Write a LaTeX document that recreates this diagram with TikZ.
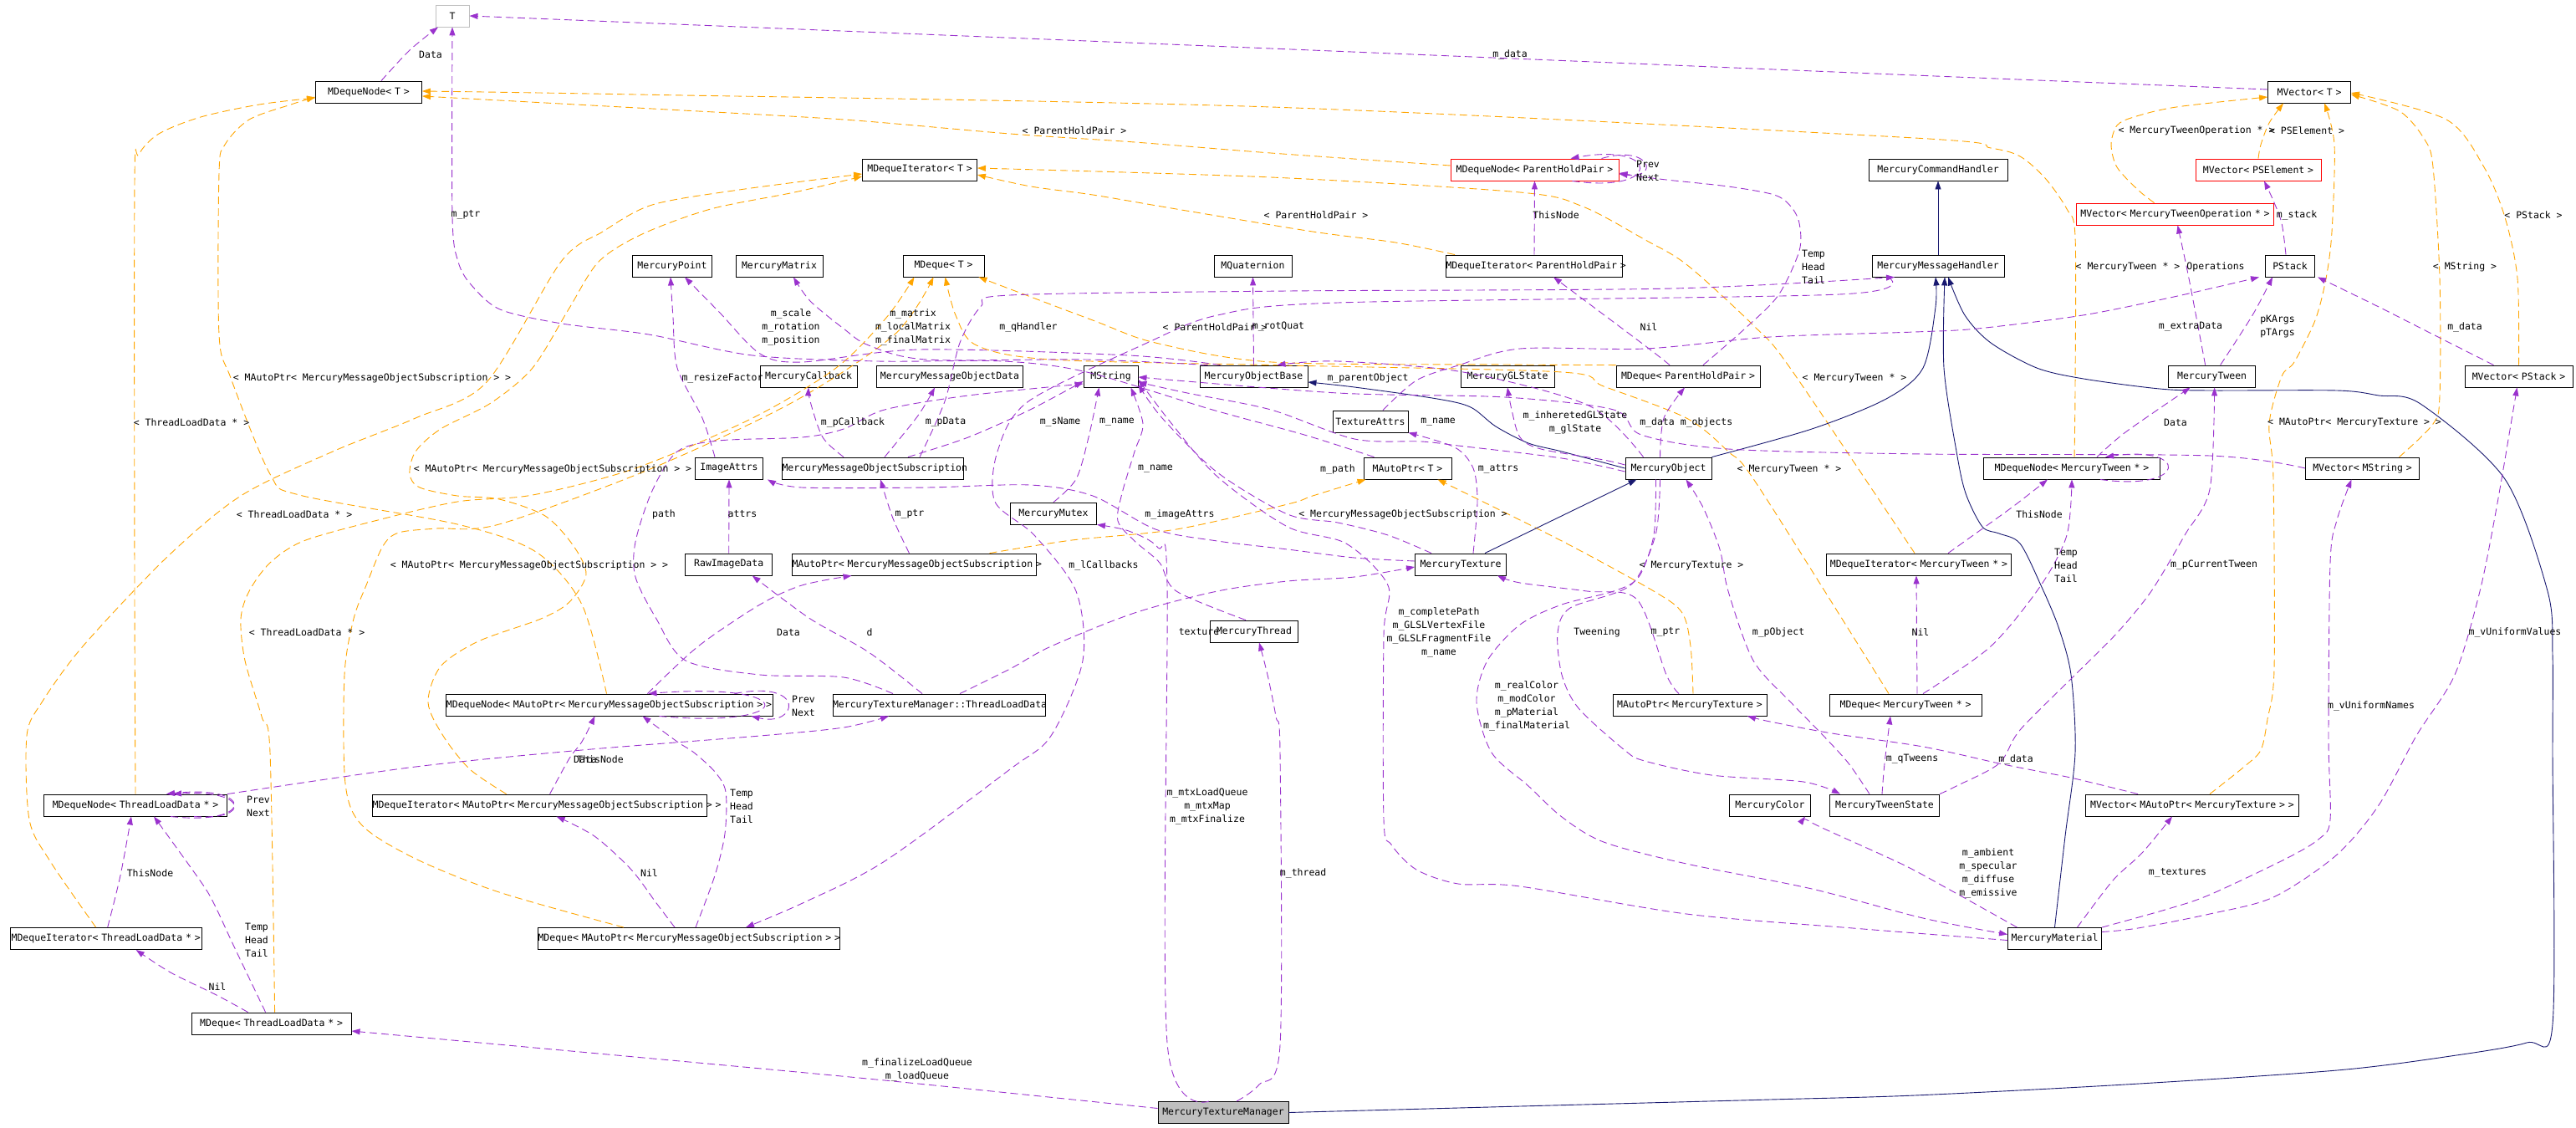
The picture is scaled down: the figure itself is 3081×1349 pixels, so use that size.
\documentclass[tikz,border=0pt]{standalone}
\usepackage{fontspec}
\usepackage{tikz}
\usetikzlibrary{arrows.meta}
\newfontfamily\dxmono{DejaVu Sans Mono}
\newcommand{\dxfont}{\dxmono\fontsize{11.5}{16}\selectfont}
\definecolor{useclr}{HTML}{9A32CD}
\definecolor{tplclr}{HTML}{FFA500}
\definecolor{inhclr}{HTML}{191970}
\definecolor{grayline}{HTML}{BFBFBF}
\tikzset{
  clsbox/.style={draw=black, line width=0.9pt, minimum height=26pt,
    inner sep=0pt, font=\dxfont, align=center, text width=#1,
    execute at begin node={\leavevmode\hbox\bgroup},
    execute at end node={\egroup}},
  redbox/.style={clsbox=#1, draw=red},
  lbl/.style={font=\dxfont, inner sep=0pt, align=center},
  usage/.style={draw=useclr, line width=0.9pt, dash pattern=on 9pt off 5pt,
    -{Triangle[length=10pt,width=7pt]}},
  tmpl/.style={draw=tplclr, line width=0.9pt, dash pattern=on 9pt off 5pt,
    -{Triangle[length=10pt,width=7pt]}},
  inherit/.style={draw=inhclr, line width=0.9pt,
    -{Triangle[length=10pt,width=7pt]}},
}

\begin{document}
\begin{tikzpicture}[x=1pt, y=-1pt]
  \useasboundingbox (0,0) rectangle (3081,1349);

  % classes
  \node[clsbox=40pt, draw=grayline] (tT) at (541,19) {T};
  \node[clsbox=127pt] (mdnT) at (441,110) {MDequeNode< T >};
  \node[clsbox=99pt] (mvT) at (2762,110) {MVector< T >};
  \node[clsbox=137pt] (mdiT) at (1100,203) {MDequeIterator< T >};
  \node[redbox=201pt] (mdnPHP) at (1835.5,203) {MDequeNode< ParentHoldPair >};
  \node[clsbox=166pt] (mch) at (2318,203) {MercuryCommandHandler};
  \node[redbox=150pt] (mvPSE) at (2701,203) {MVector< PSElement >};
  \node[redbox=236pt] (mvMTO) at (2601.5,256) {MVector< MercuryTweenOperation * >};
  \node[clsbox=95pt] (mpoint) at (804,318) {MercuryPoint};
  \node[clsbox=104pt] (mmatrix) at (932,318) {MercuryMatrix};
  \node[clsbox=97pt] (mdqT) at (1128.5,318) {MDeque< T >};
  \node[clsbox=93pt] (mquat) at (1498.5,318) {MQuaternion};
  \node[clsbox=211pt] (mdiPHP) at (1835,318) {MDequeIterator< ParentHoldPair >};
  \node[clsbox=158pt] (mmh) at (2318,318) {MercuryMessageHandler};
  \node[clsbox=59pt] (pstack) at (2739,318) {PStack};
  \node[clsbox=116pt] (mcallback) at (967,450) {MercuryCallback};
  \node[clsbox=175pt] (mmodata) at (1136,450) {MercuryMessageObjectData};
  \node[clsbox=65pt] (mstring) at (1328.5,450) {MString};
  \node[clsbox=129pt] (mobase) at (1499.5,450) {MercuryObjectBase};
  \node[clsbox=112pt] (mglstate) at (1803,450) {MercuryGLState};
  \node[clsbox=172pt] (mdqPHP) at (2019,450) {MDeque< ParentHoldPair >};
  \node[clsbox=104pt] (mtween) at (2645.6,450) {MercuryTween};
  \node[clsbox=129pt] (mvPStack) at (3012.5,450) {MVector< PStack >};
  \node[clsbox=90pt] (texattrs) at (1639,504) {TextureAttrs};
  \node[clsbox=81pt] (imgattrs) at (872,560) {ImageAttrs};
  \node[clsbox=217pt] (mmos) at (1044,560) {MercuryMessageObjectSubscription};
  \node[clsbox=105pt] (maptrT) at (1683.5,560) {MAutoPtr< T >};
  \node[clsbox=103pt] (mobject) at (1995.5,560) {MercuryObject};
  \node[clsbox=211pt] (mdnMT) at (2478,560) {MDequeNode< MercuryTween * >};
  \node[clsbox=136pt] (mvMString) at (2825.5,560) {MVector< MString >};
  \node[clsbox=103pt] (mmutex) at (1260,614) {MercuryMutex};
  \node[clsbox=104pt] (rawimg) at (871.7,675) {RawImageData};
  \node[clsbox=292pt] (maptrMMOS) at (1093.5,675) {MAutoPtr< MercuryMessageObjectSubscription >};
  \node[clsbox=109pt] (mtexture) at (1747,675) {MercuryTexture};
  \node[clsbox=221pt] (mdiMT) at (2295,675) {MDequeIterator< MercuryTween * >};
  \node[clsbox=105pt] (mthread) at (1500,755) {MercuryThread};
  \node[clsbox=391pt] (mdnMMOS) at (728.5,843) {MDequeNode< MAutoPtr< MercuryMessageObjectSubscription > >};
  \node[clsbox=254pt] (tld) at (1123,843) {MercuryTextureManager::ThreadLoadData};
  \node[clsbox=184pt] (maptrMT) at (2021,843) {MAutoPtr< MercuryTexture >};
  \node[clsbox=182pt] (mdqMT) at (2279,843) {MDeque< MercuryTween * >};
  \node[clsbox=219pt] (mdnTLD) at (162,963) {MDequeNode< ThreadLoadData * >};
  \node[clsbox=400pt] (mdiMMOS) at (645.6,963) {MDequeIterator< MAutoPtr< MercuryMessageObjectSubscription > >};
  \node[clsbox=97pt] (mcolor) at (2117,963) {MercuryColor};
  \node[clsbox=131pt] (mtstate) at (2254,963) {MercuryTweenState};
  \node[clsbox=255pt] (mvMAT) at (2622,963) {MVector< MAutoPtr< MercuryTexture > >};
  \node[clsbox=229pt] (mdiTLD) at (126.7,1122.5) {MDequeIterator< ThreadLoadData * >};
  \node[clsbox=112pt] (mmaterial) at (2457.5,1122.5) {MercuryMaterial};
  \node[clsbox=361pt] (mdqMMOS) at (824,1122.5) {MDeque< MAutoPtr< MercuryMessageObjectSubscription > >};
  \node[clsbox=191pt] (mdqTLD) at (324.6,1224) {MDeque< ThreadLoadData * >};
  \node[clsbox=156pt, fill=grayline] (mtm) at (1463,1330.5) {MercuryTextureManager};

  % template instances
  \draw[tmpl] plot[smooth] coordinates {([yshift=5pt]mdnPHP.west) (1520,183) (1357,170) (1208,160) (1009,143) (780,130) ([yshift=-5pt]mdnT.east)};
  \draw[tmpl] plot[smooth] coordinates {([xshift=3pt]mdnMT.north) (2482,460) (2482,283) (2472,250) (2446,213) (2416,187) (2381,177) (2290,165) (1520,128) (760,113) ([yshift=1pt]mdnT.east)};
  \draw[tmpl] plot[smooth] coordinates {(mdnTLD.north) (161,700) (161,220) (166,185) (190,160) (240,140) (310,125) ([yshift=-7pt]mdnT.west)};
  \draw[tmpl] plot[smooth] coordinates {([xshift=-3pt]mdnMMOS.north) (696,723) (641,660) (547,627) (358,592) (323,567) (276,452) (262,400) (262,207) (269,173) (298,143) (348,125) ([yshift=-6pt]mdnT.west)};
  \draw[tmpl] plot[smooth] coordinates {([xshift=-12pt]mdiTLD.north) (60,1030) (35,980) (32,880) (50,840) (99,773) (199,667) (288,593) (398,540) (497,500) (582,457) (671,313) (721,277) (780,245) (884,227) ([yshift=-5pt]mdiT.west)};
  \draw[tmpl] plot[smooth] coordinates {([xshift=-40pt]mdiMMOS.north) (562,920) (530,880) (512,840) (527,797) (572,767) (647,740) (681,720) (701,687) (686,653) (652,617) (597,597) (547,593) (502,583) (490,567) (497,540) (527,513) (587,482) (637,440) (680,370) (716,313) (768,280) (850,250) (950,230) ([yshift=-8pt]mdiT.west)};
  \draw[tmpl] plot[smooth] coordinates {([xshift=-95pt]mdiPHP.north) (1669,290) (1570,277) (1407,250) (1307,233) (1233,223) ([yshift=-6pt]mdiT.east)};
  \draw[tmpl] plot[smooth] coordinates {([xshift=-5pt]mdiMT.north) (2141,440) (2098,390) (2018,317) (1968,287) (1893,247) (1818,230) (1520,212) ([yshift=2pt]mdiT.east)};
  \draw[tmpl] plot[smooth] coordinates {(mdqPHP.north west) (1800,436) (1521,433) (1382,410) (1307,383) ([xshift=42pt]mdqT.south)};
  \draw[tmpl] plot[smooth] coordinates {([xshift=-20pt]mdqMT.north) (2102,580) (2067,540) (2017,500) (1918,462) (1868,445) (1540,437) (1257,430) (1168,413) (1143,377) ([xshift=2pt]mdqT.south)};
  \draw[tmpl] plot[smooth] coordinates {([xshift=4pt]mdqTLD.north) (323,900) (313,857) (293,790) (288,740) (298,707) (323,673) (363,647) (448,623) (547,600) (637,592) (760,560) (900,500) (1000,440) (1060,380) ([xshift=-35pt]mdqT.south)};
  \draw[tmpl] plot[smooth] coordinates {([xshift=-78pt]mdqMMOS.north) (597,1067) (497,1027) (433,987) (413,937) (412,807) (423,740) (438,700) (458,653) (477,637) (522,632) (597,627) (780,560) (950,480) (1070,400) ([xshift=-12pt]mdqT.south)};
  \draw[tmpl] plot[smooth] coordinates {([xshift=90pt]maptrMMOS.north) (1282,646) (1407,633) (1540,603) (1570,593) ([xshift=-50pt]maptrT.south)};
  \draw[tmpl] plot[smooth] coordinates {([xshift=4pt]maptrMT.north) (2022,773) (2012,733) (1978,707) (1868,647) ([xshift=36pt]maptrT.south)};
  \draw[tmpl] plot[smooth] coordinates {([xshift=-25pt]mvMTO.north) (2557,227) (2532,200) (2525,173) (2532,150) (2552,140) (2603,128) ([yshift=-6pt]mvT.west)};
  \draw[tmpl] plot[smooth] coordinates {(mvPSE.north) (2704,173) (2714,147) ([xshift=-31pt]mvT.south)};
  \draw[tmpl] plot[smooth] coordinates {([xshift=21pt]mvMAT.north) (2684,917) (2704,897) (2712,860) (2720,800) (2719,573) (2714,507) (2729,450) (2744,433) (2769,383) (2782,333) (2789,277) (2792,173) ([xshift=18pt]mvT.south)};
  \draw[tmpl] plot[smooth] coordinates {([xshift=44pt]mvMString.north) (2910,507) (2918,473) (2918,333) (2910,200) (2900,167) (2870,133) ([yshift=-3pt]mvT.east)};
  \draw[tmpl] plot[smooth] coordinates {(mvPStack.north) (3011,333) (2996,260) (2971,200) (2926,143) ([yshift=-1pt]mvT.east)};

  % inheritance
  \draw[inherit] (mmh) -- (mch);
  \draw[inherit] plot[smooth] coordinates {(mobject.north east) (2167,513) (2256,477) (2300,440) (2315,367) ([xshift=-3pt]mmh.south)};
  \draw[inherit] plot[smooth] coordinates {(mmaterial.north) (2470,1000) (2482,900) (2477,807) (2462,750) (2441,700) (2416,650) (2391,638) (2371,630) (2351,590) (2340,540) (2325,440) ([xshift=8pt]mmh.south)};
  \draw[inherit] plot[smooth] coordinates {(mtm.east) (1818,1323) (2117,1315) (2290,1310) (2542,1297) (2795,1280) (2931,1263) (3022,1247) (3053,1225) (3053,900) (3053,783) (3047,707) (2996,573) (2895,483) (2845,473) (2795,467) (2643,467) (2583,465) (2492,453) (2436,440) (2381,410) (2350,377) ([xshift=12pt]mmh.south)};
  \draw[inherit] plot[smooth] coordinates {(mobject.west) (1868,540) (1828,530) (1789,510) (1759,487) (1719,477) (1620,463) ([yshift=-7pt]mobase.east)};
  \draw[inherit] ([xshift=29pt]mtexture.north) -- ([xshift=-38pt]mobject.south);

  % usage
  \draw[usage] plot[smooth] coordinates {([yshift=3pt]mvT.west) (2290,90) (1520,58) (760,27) (tT.east)};
  \draw[usage] plot[smooth] coordinates {([xshift=15pt]mdnT.north) (490,60) ([xshift=-17pt]tT.south)};
  \draw[usage] plot[smooth] coordinates {([xshift=-40pt]maptrT.north) (1560,520) (1450,490) (1300,445) (1200,432) (1050,432) (900,425) (776,400) (672,387) (598,370) (563,340) (548,313) (541,260) (tT.south)};
  \draw[usage] (mdiPHP.north) -- (mdnPHP.south);
  \draw[usage] plot[smooth] coordinates {([xshift=18pt]mdqPHP.north) (2087,393) (2127,353) (2152,300) (2152,267) (2142,247) (2122,233) (2067,223) (1993,215) ([yshift=-5pt]mdnPHP.east)};
  \draw[usage] plot[smooth] coordinates {([xshift=-22pt]mdqPHP.north) (1967,413) ([xshift=23pt]mdiPHP.south)};
  \draw[usage] ([xshift=45pt]mdnPHP.south) .. controls (1990,232) and (1985,170) .. ([xshift=43pt]mdnPHP.north);
  \draw[usage] ([xshift=80pt]mdnPHP.north) .. controls (1975,172) and (1985,215) .. ([yshift=-4pt]mdnPHP.east);
  \draw[usage] plot[smooth] coordinates {([xshift=56pt]mmos.north) (1130,480) (1148,410) (1173,367) (1208,353) (1540,348) (2000,345) ([xshift=-52pt]mmh.south)};
  \draw[usage] (mobase.north) -- (mquat.south);
  \draw[usage] plot[smooth] coordinates {([xshift=-40pt]mobase.north) (1350,425) (1100,418) (959,433) (909,423) (860,373) ([xshift=15pt]mpoint.south)};
  \draw[usage] plot[smooth] coordinates {([xshift=-55pt]mobase.north) (1300,430) (1108,430) (1039,413) (1009,393) (969,360) ([xshift=17pt]mmatrix.south)};
  \draw[usage] plot[smooth] coordinates {([xshift=-17pt]imgattrs.north) (840,500) (810,440) (805,380) ([xshift=-2pt]mpoint.south)};
  \draw[usage] plot[smooth] coordinates {([xshift=-35pt]mmos.north) (984,523) (969,480) (mcallback.south)};
  \draw[usage] plot[smooth] coordinates {([xshift=14pt]mmos.north) (1098,497) ([xshift=-18pt]mmodata.south)};
  \draw[usage] plot[smooth] coordinates {([xshift=42pt]mmos.north) (1158,523) (1232,490) ([yshift=-6pt]mstring.west)};
  \draw[usage] plot[smooth] coordinates {(mmutex.north) (1287,573) (1302,523) ([xshift=-14pt]mstring.south)};
  \draw[usage] plot[smooth] coordinates {([xshift=-10pt]mthread.north) (1407,707) (1387,673) (1357,647) (1337,623) (1342,590) (1357,540) (1367,507) ([xshift=24pt]mstring.south)};
  \draw[usage] plot[smooth] coordinates {([xshift=-55pt]tld.north) (1009,810) (909,807) (820,790) (785,740) (760,690) (760,648) (780,587) (810,540) (859,527) (959,523) (1009,513) (1058,490) (1158,473) ([yshift=-9pt]mstring.west)};
  \draw[usage] (rawimg.north) -- (imgattrs.south);
  \draw[usage] plot[smooth] coordinates {([xshift=-20pt]tld.north) (1039,780) (969,740) ([xshift=28pt]rawimg.south)};
  \draw[usage] plot[smooth] coordinates {([yshift=4pt]mtexture.west) (1620,667) (1540,657) (1456,647) (1382,633) (1307,593) (1232,580) (1108,583) (959,583) ([xshift=5pt]imgattrs.south east)};
  \draw[usage] plot[smooth] coordinates {([xshift=25pt]tld.north) (1208,800) (1257,773) (1357,733) (1456,707) (1540,695) (1620,690) ([yshift=-3pt]mtexture.west)};
  \draw[usage] plot[smooth] coordinates {([xshift=-6pt]maptrMMOS.north) (1068,620) ([xshift=9pt]mmos.south)};
  \draw[usage] plot[smooth] coordinates {([xshift=46pt]mdnMMOS.north) (835,773) (909,723) (959,700) ([xshift=-75pt]maptrMMOS.south)};
  \draw[usage] ([xshift=60pt]mdnMMOS.south) .. controls (955,872) and (960,815) .. ([xshift=47pt]mdnMMOS.north);
  \draw[usage] ([xshift=150pt]mdnMMOS.north) .. controls (965,812) and (955,870) .. ([xshift=170pt]mdnMMOS.south);
  \draw[usage] plot[smooth] coordinates {([xshift=12pt]mdiMMOS.north) (681,907) (696,887) ([xshift=-17pt]mdnMMOS.south)};
  \draw[usage] plot[smooth] coordinates {([xshift=8pt]mdqMMOS.north) (855,1047) (867,997) (868,947) (855,923) (830,900) (810,887) ([xshift=40pt]mdnMMOS.south)};
  \draw[usage] plot[smooth] coordinates {([xshift=-17pt]mdqMMOS.north) (785,1080) (755,1040) (711,1000) ([xshift=20pt]mdiMMOS.south)};
  \draw[usage] plot[smooth] coordinates {([xshift=-60pt]mmh.south) (2200,352) (1600,362) (1456,377) (1372,410) (1230,480) (1193,540) (1190,600) (1237,640) (1287,707) (1295,790) (1257,880) (1208,920) (1058,1030) (960,1080) ([xshift=68pt]mdqMMOS.north)};
  \draw[usage] plot[smooth] coordinates {([yshift=4pt]mobject.west) (1918,550) (1843,537) (1818,523) (1808,490) (mglstate.south)};
  \draw[usage] plot[smooth] coordinates {([xshift=-10pt]mobject.north) (1990,500) ([xshift=-4pt]mdqPHP.south)};
  \draw[usage] plot[smooth] coordinates {([xshift=-30pt]mobject.north) (1900,485) (1750,445) (1600,432) ([xshift=28pt]mobase.north)};
  \draw[usage] plot[smooth] coordinates {([xshift=15pt]texattrs.north) (1694,455) (1744,437) (1818,417) (1968,417) (2117,403) (2290,397) (2365,393) (2491,377) (2600,355) ([xshift=-37pt]pstack.south)};
  \draw[usage] plot[smooth] coordinates {([xshift=-8pt]mtween.north) (2618,333) ([xshift=3pt]mvMTO.south)};
  \draw[usage] plot[smooth] coordinates {([xshift=10pt]mtween.north) (2694,377) ([xshift=-21pt]pstack.south)};
  \draw[usage] plot[smooth] coordinates {([xshift=-5pt]pstack.north) (2729,267) (2719,240) ([xshift=7pt]mvPSE.south)};
  \draw[usage] plot[smooth] coordinates {([xshift=-30pt]mvPStack.north) (2916,403) (2845,367) ([xshift=33pt]pstack.south)};
  \draw[usage] plot[smooth] coordinates {([xshift=30pt]mdnMT.north) (2542,517) ([xshift=-26pt]mtween.south)};
  \draw[usage] ([xshift=34pt]mdnMT.south) .. controls (2618,588) and (2618,532) .. ([xshift=40pt]mdnMT.north);
  \draw[usage] plot[smooth] coordinates {([xshift=35pt]mdiMT.north) (2406,607) ([xshift=-29pt]mdnMT.south)};
  \draw[usage] plot[smooth] coordinates {([xshift=21pt]mdqMT.north) (2381,773) (2441,700) (2472,640) (mdnMT.south)};
  \draw[usage] ([xshift=14pt]mdqMT.north) -- ([xshift=-3pt]mdiMT.south);
  \draw[usage] plot[smooth] coordinates {([xshift=66pt]mtstate.north) (2340,940) (2391,913) (2416,873) (2482,807) (2532,757) (2573,707) (2613,640) (2643,585) ([xshift=3pt]mtween.south)};
  \draw[usage] plot[smooth] coordinates {([xshift=-3pt]mtstate.north) (2254,913) ([xshift=-18pt]mdqMT.south)};
  \draw[usage] plot[smooth] coordinates {([xshift=-10pt]mobject.south) (1980,640) (1950,700) (1878,727) (1863,757) (1868,807) (1888,847) (1943,897) (1967,910) (2047,927) (2157,935) ([xshift=-53pt]mtstate.north)};
  \draw[usage] plot[smooth] coordinates {([xshift=-18pt]mtstate.north) (2211,913) (2181,880) (2142,840) (2097,790) (2067,707) (2057,657) (2037,607) ([xshift=21pt]mobject.south)};
  \draw[usage] plot[smooth] coordinates {([xshift=-13pt]maptrMT.north) (1993,807) (1958,717) (1898,707) (1818,697) ([xshift=44pt]mtexture.south)};
  \draw[usage] plot[smooth] coordinates {([xshift=-65pt]mvMAT.north) (2481,931) (2441,923) (2391,913) (2300,893) (2191,877) (2117,863) ([xshift=69pt]maptrMT.south)};
  \draw[usage] plot[smooth] coordinates {([xshift=27pt]mmaterial.north) (2527,1053) (2562,1020) ([xshift=-24pt]mvMAT.south)};
  \draw[usage] plot[smooth] coordinates {([xshift=-45pt]mmaterial.north) (2330,1063) (2274,1033) (2173,987) ([xshift=42pt]mcolor.south)};
  \draw[usage] plot[smooth] coordinates {([xshift=-15pt]mobject.south) (1978,640) (1960,690) (1930,707) (1868,723) (1818,747) (1779,790) (1766,840) (1784,900) (1828,940) (1868,977) (1918,1007) (2017,1033) (2167,1063) (2300,1098) ([yshift=5pt]mmaterial.west)};
  \draw[usage] plot[smooth] coordinates {([yshift=-2pt]mmaterial.west) (2216,1110) (2017,1093) (1818,1060) (1744,1057) (1694,1040) (1664,1010) (1655,980) (1655,760) (1660,700) (1610,650) (1540,630) (1456,570) (1400,505) ([yshift=-4pt]mstring.east)};
  \draw[usage] plot[smooth] coordinates {(mmaterial.north east) (2593,1087) (2643,1070) (2734,1027) (2774,1003) (2787,980) (2785,880) (2787,673) (2795,622) ([xshift=-13pt]mvMString.south)};
  \draw[usage] plot[smooth] coordinates {([yshift=8pt]mmaterial.east) (2557,1110) (2643,1093) (2719,1073) (2794,1023) (2845,963) (2890,880) (2936,807) (2966,707) (2986,607) (3006,490) ([xshift=-2pt]mvPStack.south)};
  \draw[usage] plot[smooth] coordinates {(mvMString.west) (2643,545) (2300,543) (2067,537) (1963,520) (1930,490) (1800,475) (1600,470) ([yshift=-1pt]mstring.east)};
  \draw[usage] plot[smooth] coordinates {([yshift=-4pt]mobject.west) (1868,548) (1744,533) (1700,528) (1620,525) (1520,490) (1420,470) ([yshift=-7pt]mstring.east)};
  \draw[usage] plot[smooth] coordinates {([xshift=15pt]mtexture.north) (1767,600) (1762,560) (1740,535) (texattrs.south east)};
  \draw[usage] plot[smooth] coordinates {([xshift=-35pt]mtexture.north) (1660,640) (1600,625) (1540,615) (1456,565) (1390,500) ([yshift=-10pt]mstring.east)};
  \draw[usage] plot[smooth] coordinates {([yshift=5pt]mtm.west) (1058,1292) (770,1265) ([yshift=-9pt]mdqTLD.east)};
  \draw[usage] plot[smooth] coordinates {([xshift=-17pt]mtm.north) (1396,1247) (1396,700) (1385,655) (1350,635) (mmutex.south east)};
  \draw[usage] plot[smooth] coordinates {([xshift=16pt]mtm.north) (1506,1297) (1531,1250) (1531,900) (1526,857) (1516,807) ([xshift=6pt]mthread.south)};
  \draw[usage] plot[smooth] coordinates {(mdnTLD.north east) (497,917) (696,897) (909,880) (1009,870) ([xshift=-60pt]tld.south)};
  \draw[usage] ([xshift=42pt]mdnTLD.south) .. controls (305,988) and (305,938) .. ([xshift=37pt]mdnTLD.north);
  \draw[usage] ([xshift=70pt]mdnTLD.south) .. controls (300,982) and (298,944) .. ([xshift=45pt]mdnTLD.north);
  \draw[usage] plot[smooth] coordinates {([xshift=2pt]mdiTLD.north) (144,1047) ([xshift=-5pt]mdnTLD.south)};
  \draw[usage] plot[smooth] coordinates {([xshift=-7pt]mdqTLD.north) (279,1130) (259,1087) (244,1060) (199,997) ([xshift=22pt]mdnTLD.south)};
  \draw[usage] plot[smooth] coordinates {([xshift=-28pt]mdqTLD.north) (259,1190) (204,1163) ([xshift=36pt]mdiTLD.south)};

  % edge labels
  \node[lbl] (l01) at (515,65) {Data};
  \node[lbl] (l02) at (1806,65) {m\_data};
  \node[lbl] (l03) at (1285,156) {< ParentHoldPair >};
  \node[lbl] (l04) at (2627,156) {< MercuryTweenOperation * >};
  \node[lbl] (l05) at (2759,156) {< PSElement >};
  \node[lbl] (l06) at (1971,204) {Prev\\Next};
  \node[lbl] (l07) at (557,257) {m\_ptr};
  \node[lbl] (l08) at (1574,257) {< ParentHoldPair >};
  \node[lbl] (l09) at (1861,257) {ThisNode};
  \node[lbl] (l10) at (2747,257) {m\_stack};
  \node[lbl] (l11) at (3030,257) {< PStack >};
  \node[lbl] (l12) at (2169,319) {Temp\\Head\\Tail};
  \node[lbl] (l13) at (2545,319) {< MercuryTween * >};
  \node[lbl] (l14) at (2650,319) {Operations};
  \node[lbl] (l15) at (2948,319) {< MString >};
  \node[lbl] (l16) at (946,391) {m\_scale\\m\_rotation\\m\_position};
  \node[lbl] (l17) at (1092,391) {m\_matrix\\m\_localMatrix\\m\_finalMatrix};
  \node[lbl] (l18) at (1230,391) {m\_qHandler};
  \node[lbl] (l19) at (1453,391) {< ParentHoldPair >};
  \node[lbl] (l20) at (1529,391) {m\_rotQuat};
  \node[lbl] (l21) at (1972,391) {Nil};
  \node[lbl] (l22) at (2620,391) {m\_extraData};
  \node[lbl] (l23) at (2724,391) {pKArgs\\pTArgs};
  \node[lbl] (l24) at (2948,391) {m\_data};
  \node[lbl] (l25) at (445,452) {< MAutoPtr< MercuryMessageObjectSubscription > >};
  \node[lbl] (l26) at (864,452) {m\_resizeFactor};
  \node[lbl] (l27) at (1636,452) {m\_parentObject};
  \node[lbl] (l28) at (2218,452) {< MercuryTween * >};
  \node[lbl] (l29) at (229,505) {< ThreadLoadData * >};
  \node[lbl] (l30) at (1020,505) {m\_pCallback};
  \node[lbl] (l31) at (1131,505) {m\_pData};
  \node[lbl] (l32) at (1268,505) {m\_sName};
  \node[lbl] (l33) at (1336,505) {m\_name};
  \node[lbl] (l34) at (1720,505) {m\_name};
  \node[lbl] (l35) at (1884,505) {m\_inheretedGLState\\m\_glState};
  \node[lbl] (l36) at (1982,505) {m\_data};
  \node[lbl] (l37) at (2041,505) {m\_objects};
  \node[lbl] (l38) at (2602,505) {Data};
  \node[lbl] (l39) at (2816,505) {< MAutoPtr< MercuryTexture > >};
  \node[lbl] (l40) at (661,561) {< MAutoPtr< MercuryMessageObjectSubscription > >};
  \node[lbl] (l41) at (1382,561) {m\_name};
  \node[lbl] (l42) at (1600,561) {m\_path};
  \node[lbl] (l43) at (1792,561) {m\_attrs};
  \node[lbl] (l44) at (2140,561) {< MercuryTween * >};
  \node[lbl] (l45) at (352,615) {< ThreadLoadData * >};
  \node[lbl] (l46) at (794,615) {path};
  \node[lbl] (l47) at (888,615) {attrs};
  \node[lbl] (l48) at (1088,615) {m\_ptr};
  \node[lbl] (l49) at (1411,615) {m\_imageAttrs};
  \node[lbl] (l50) at (1678,615) {< MercuryMessageObjectSubscription >};
  \node[lbl] (l51) at (2439,615) {ThisNode};
  \node[lbl] (l52) at (633,676) {< MAutoPtr< MercuryMessageObjectSubscription > >};
  \node[lbl] (l53) at (1320,676) {m\_lCallbacks};
  \node[lbl] (l54) at (2023,676) {< MercuryTexture >};
  \node[lbl] (l55) at (2648,676) {m\_pCurrentTween};
  \node[lbl] (l56) at (2471,676) {Temp\\Head\\Tail};
  \node[lbl] (l57) at (367,756) {< ThreadLoadData * >};
  \node[lbl] (l58) at (943,756) {Data};
  \node[lbl] (l59) at (1040,756) {d};
  \node[lbl] (l60) at (1434,756) {texture};
  \node[lbl] (l61) at (1721,756) {m\_completePath\\m\_GLSLVertexFile\\m\_GLSLFragmentFile\\m\_name};
  \node[lbl] (l62) at (1910,756) {Tweening};
  \node[lbl] (l63) at (1992,756) {m\_ptr};
  \node[lbl] (l64) at (2127,756) {m\_pObject};
  \node[lbl] (l65) at (2297,756) {Nil};
  \node[lbl] (l66) at (3008,756) {m\_vUniformValues};
  \node[lbl] (l67) at (961,844) {Prev\\Next};
  \node[lbl] (l68) at (1826,844) {m\_realColor\\m\_modColor\\m\_pMaterial\\m\_finalMaterial};
  \node[lbl] (l69) at (2836,844) {m\_vUniformNames};
  \node[lbl] (l70) at (700,908) {Data};
  \node[lbl] (l71) at (718,908) {ThisNode};
  \node[lbl] (l72) at (2287,908) {m\_qTweens};
  \node[lbl] (l73) at (2411,908) {m\_data};
  \node[lbl] (l74) at (309,964) {Prev\\Next};
  \node[lbl] (l75) at (887,964) {Temp\\Head\\Tail};
  \node[lbl] (l76) at (1444,964) {m\_mtxLoadQueue\\m\_mtxMap\\m\_mtxFinalize};
  \node[lbl] (l77) at (179.5,1044) {ThisNode};
  \node[lbl] (l78) at (776.5,1044) {Nil};
  \node[lbl] (l79) at (1558.6,1044) {m\_thread};
  \node[lbl] (l80) at (2604.5,1044) {m\_textures};
  \node[lbl] (l81) at (2378,1044) {m\_ambient\\m\_specular\\m\_diffuse\\m\_emissive};
  \node[lbl] (l82) at (307,1124) {Temp\\Head\\Tail};
  \node[lbl] (l83) at (260,1180) {Nil};
  \node[lbl] (l84) at (1097,1279) {m\_finalizeLoadQueue\\m\_loadQueue};
\end{tikzpicture}
\end{document}
